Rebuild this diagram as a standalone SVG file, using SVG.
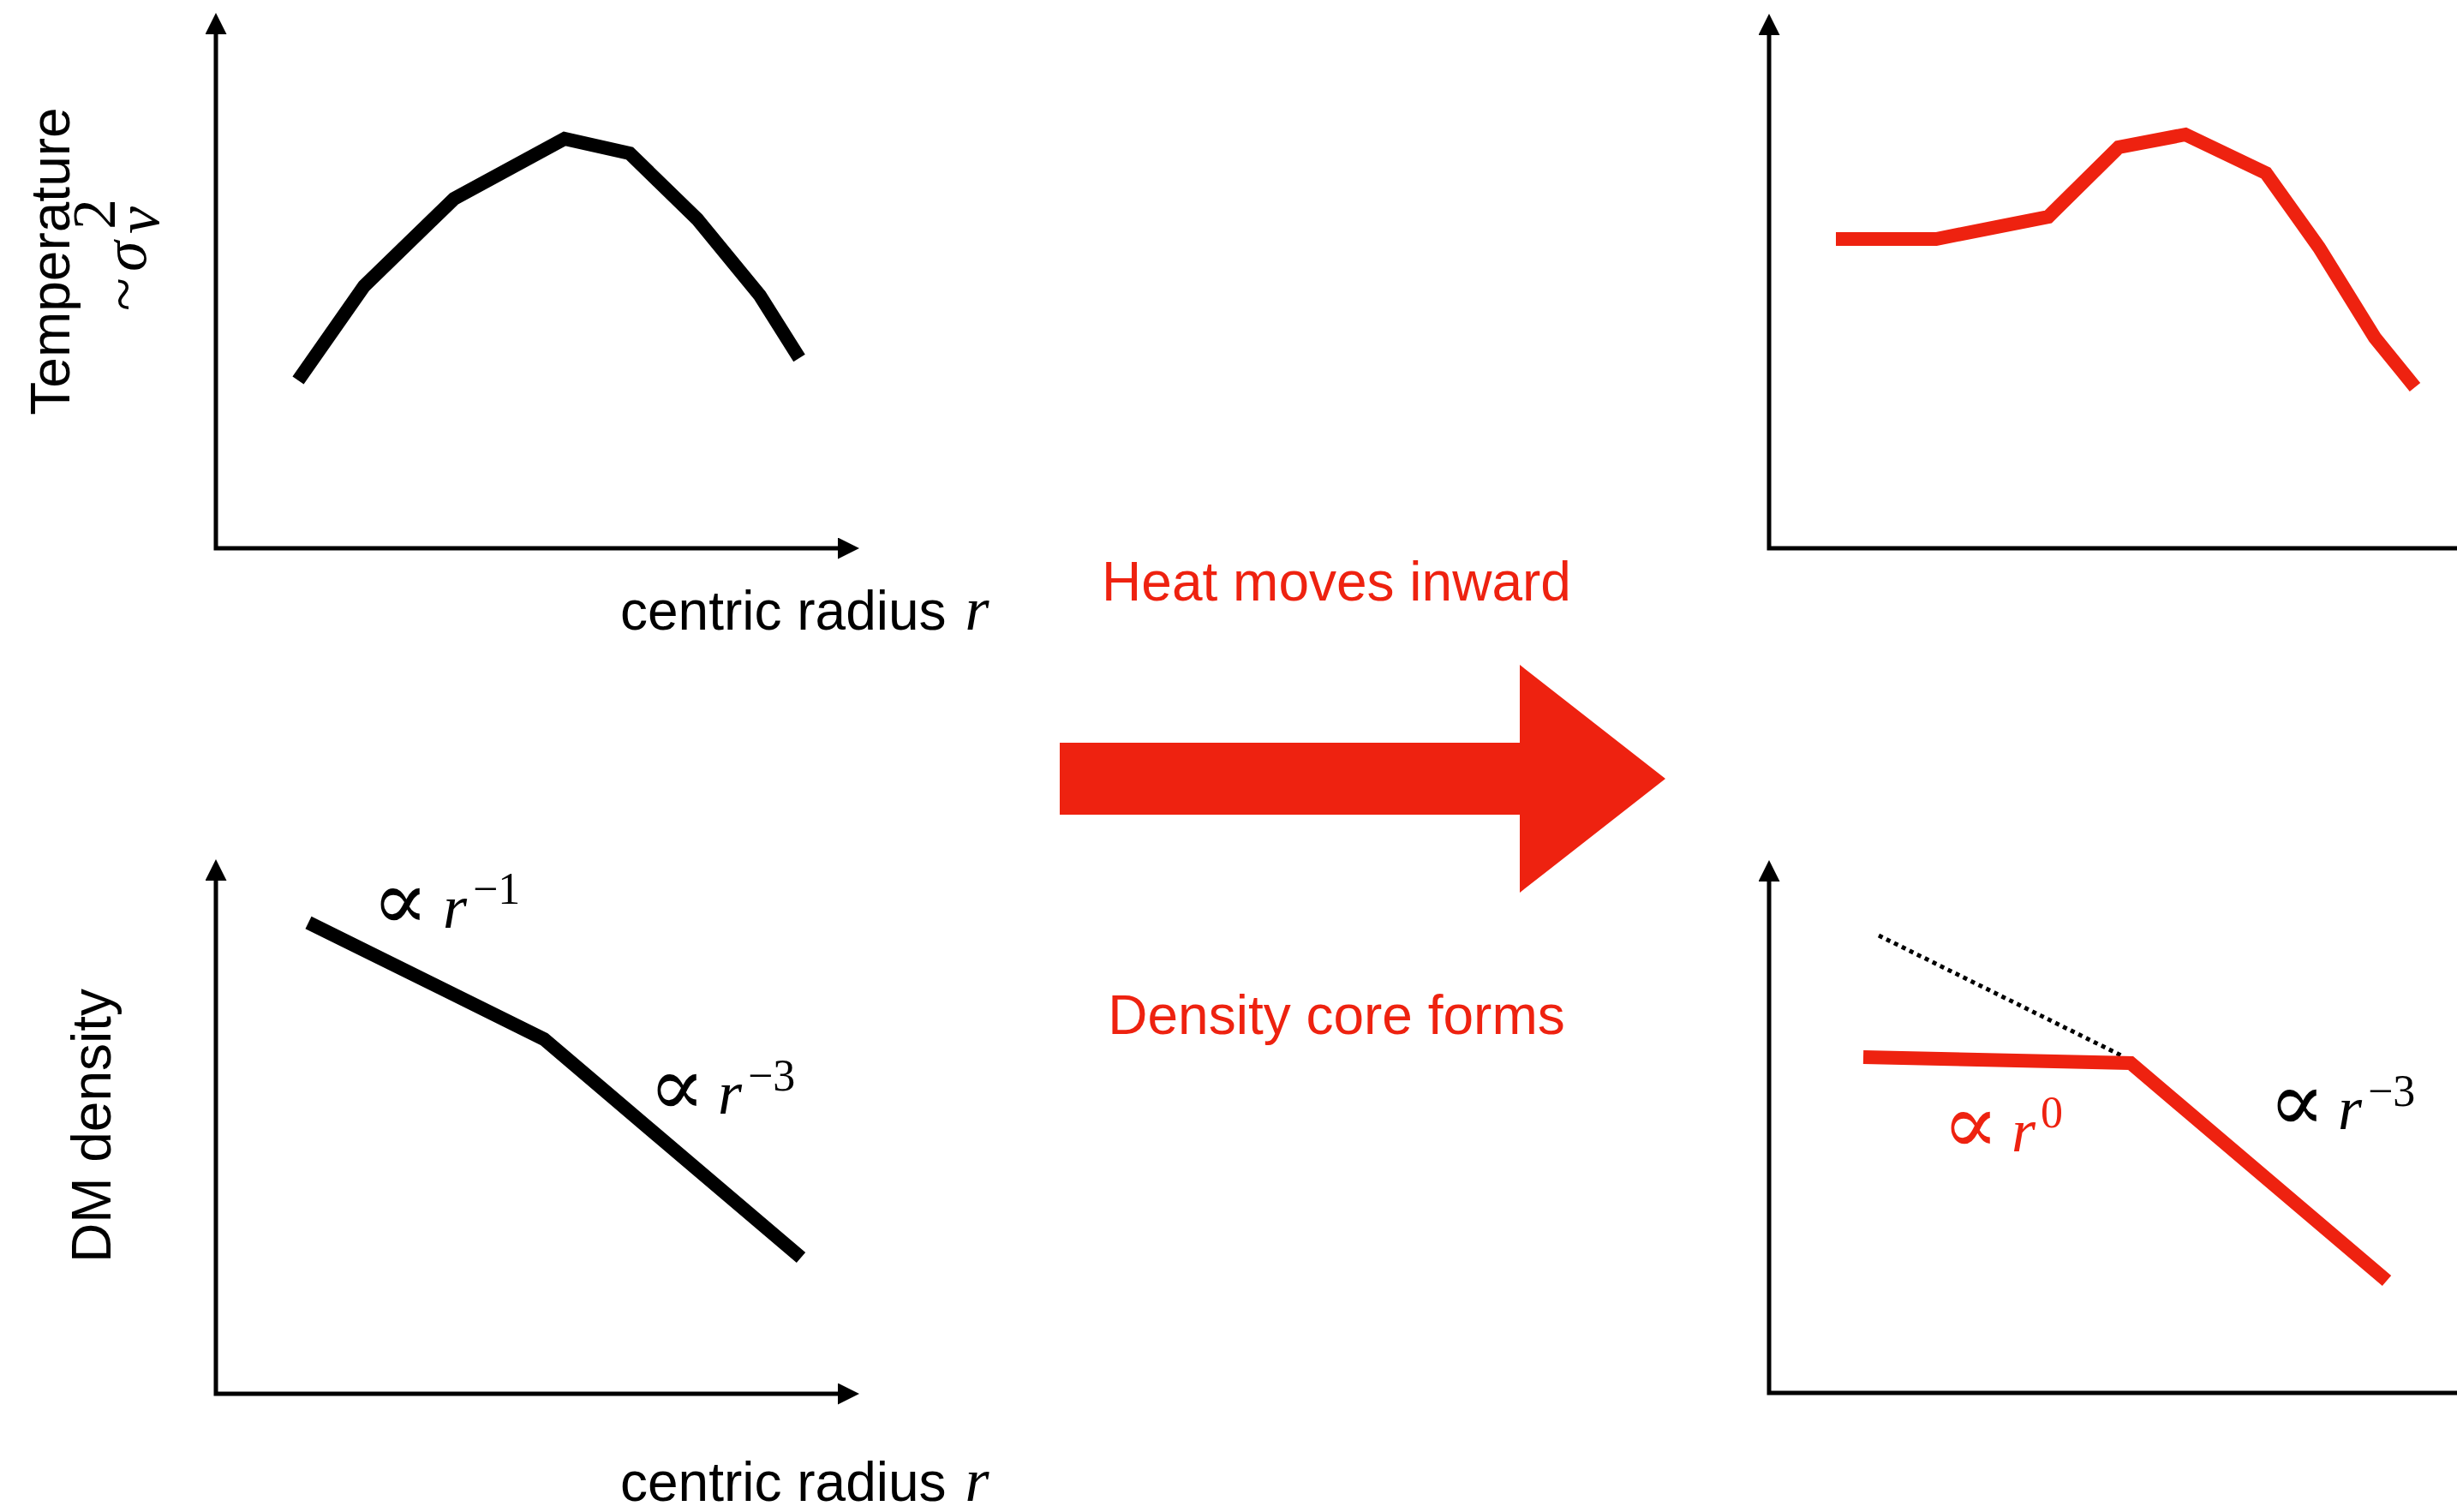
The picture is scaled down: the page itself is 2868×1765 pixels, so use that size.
<svg xmlns="http://www.w3.org/2000/svg" width="2868" height="1765" viewBox="0 0 2868 1765">
  <defs>
    <marker id="ah" viewBox="0 0 25 25" refX="0" refY="12.5" markerWidth="25" markerHeight="25" markerUnits="userSpaceOnUse" orient="auto-start-reverse">
      <path d="M0,0 L25,12.5 L0,25 Z" fill="#000"/>
    </marker>
    <style>
      .axis { fill: none; stroke: #000; stroke-width: 5; stroke-linejoin: miter; }
      .curve-k { fill: none; stroke: #000; stroke-width: 16; stroke-linejoin: miter; stroke-linecap: butt; }
      .curve-r { fill: none; stroke: #EE2210; stroke-width: 16; stroke-linejoin: miter; stroke-linecap: butt; }
      .dots { fill: none; stroke: #000; stroke-width: 5; stroke-dasharray: 5 5; }
      .sans { font-family: "Liberation Sans", Arial, Helvetica, sans-serif; font-size: 64px; fill: #000; }
      .math { font-family: "Liberation Serif", "DejaVu Serif", "Times New Roman", serif; font-size: 72px; fill: #000; }
      .prop { font-family: "DejaVu Serif", "Liberation Serif", serif; font-size: 98px; fill: #000; }
      .it { font-style: italic; }
      .sup { font-size: 52px; }
      .red { fill: #EE2210; }
    </style>
  </defs>
  <rect width="2868" height="1765" fill="#fff"/>

  <g id="panel-temperature-before">
    <path class="axis" d="M252,40 V640 H978" marker-start="url(#ah)" marker-end="url(#ah)"/>
    <polyline class="curve-k" points="348,444 425,334 530,232 659,162 735,179 814,256 887,345 933,418"/>
    <text class="sans" text-anchor="middle" transform="translate(81,305) rotate(-90)">Temperature</text>
    <g transform="translate(170,363) rotate(-90)">
      <text class="math" x="0" y="-2" font-size="60">~</text>
      <text class="math it" x="46" y="0" font-size="80">σ</text>
      <text class="math it" x="90" y="15" font-size="52">v</text>
      <text class="math" x="95" y="-36" font-size="52">2</text>
    </g>
    <text class="sans" x="724" y="735">centric radius <tspan class="math it" font-size="72" dx="4">r</tspan></text>
  </g>

  <g id="panel-density-before">
    <path class="axis" d="M252,1028 V1627 H978" marker-start="url(#ah)" marker-end="url(#ah)"/>
    <polyline class="curve-k" points="360,1077 635,1213 935,1468"/>
    <text class="sans" text-anchor="middle" transform="translate(129,1314) rotate(-90)">DM density</text>
    <text class="prop" x="434" y="1085">∝</text>
    <text class="math it" x="517" y="1083">r</text>
    <text class="math sup" x="552" y="1055">−1</text>
    <text class="prop" x="757" y="1302">∝</text>
    <text class="math it" x="838" y="1300">r</text>
    <text class="math sup" x="873" y="1273">−3</text>
    <text class="sans" x="724" y="1752">centric radius <tspan class="math it" font-size="72" dx="4">r</tspan></text>
  </g>

  <g id="panel-temperature-after">
    <path class="axis" d="M2065,41 V640 H2868" marker-start="url(#ah)"/>
    <polyline class="curve-r" points="2143,279 2260,279 2391,253 2473,172 2551,157 2645,202 2707,289 2772,394 2819,452"/>
  </g>

  <g id="panel-density-after">
    <path class="axis" d="M2065,1029 V1626 H2868" marker-start="url(#ah)"/>
    <line class="dots" x1="2193" y1="1092" x2="2478" y2="1233"/>
    <polyline class="curve-r" points="2175,1234 2487,1241 2786,1495"/>
    <text class="prop red" x="2267" y="1346">∝</text>
    <text class="math it red" x="2348" y="1344">r</text>
    <text class="math sup red" x="2382" y="1316">0</text>
    <text class="prop" x="2648" y="1320">∝</text>
    <text class="math it" x="2729" y="1318">r</text>
    <text class="math sup" x="2764" y="1291">−3</text>
  </g>

  <g id="connectors">
    <polygon id="transition-arrow" points="1237,867 1774,867 1774,776 1944,909 1774,1042 1774,951 1237,951" fill="#EE2210"/>
    <text class="sans red" x="1560" y="701" text-anchor="middle">Heat moves inward</text>
    <text class="sans red" x="1560" y="1207" text-anchor="middle">Density core forms</text>
  </g>
</svg>
